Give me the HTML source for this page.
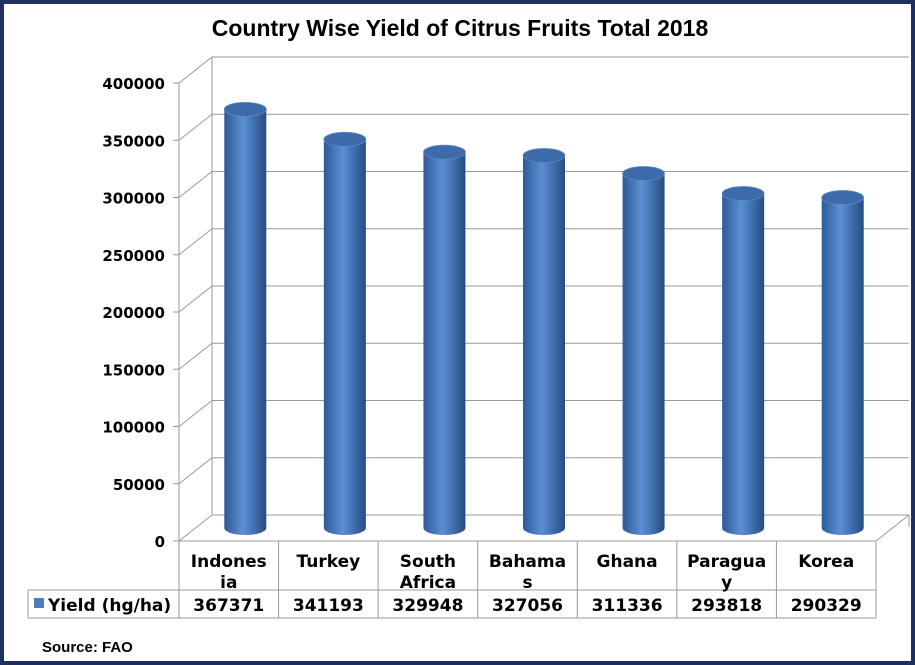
<!DOCTYPE html>
<html><head><meta charset="utf-8"><style>
html,body{margin:0;padding:0;background:#fff;}
#wrap{position:relative;width:915px;height:665px;box-sizing:border-box;border:4px solid #1f2f5f;background:#fff;overflow:hidden;}
svg{position:absolute;left:-4px;top:-4px;}
</style></head><body>
<div id="wrap">
<svg id="c" width="915" height="665">
<defs>
<linearGradient id="cyl" x1="0" x2="1" y1="0" y2="0">
<stop offset="0" stop-color="#2e5a96"/><stop offset="0.45" stop-color="#5b8fd6"/><stop offset="1" stop-color="#254c82"/>
</linearGradient>
</defs>
<text x="460" y="36" text-anchor="middle" font-family="Liberation Sans, sans-serif" font-weight="bold" font-size="23" fill="#000">Country Wise Yield of Citrus Fruits Total 2018</text>
<g id="grid"></g><g id="bars"></g><g id="table"></g>
<text x="42" y="652" font-family="Liberation Sans, sans-serif" font-weight="bold" font-size="15">Source: FAO</text>
</svg></div>
<script>
const categories=["Indones|ia","Turkey","South|Africa","Bahama|s","Ghana","Paragua|y","Korea"];
const values=[367371,341193,329948,327056,311336,293818,290329];
const yTicks=[0,50000,100000,150000,200000,250000,300000,350000,400000];
const seriesName="Yield (hg/ha)";
const NS="http://www.w3.org/2000/svg";
const x0=179,x1=876,y0=541,yTop=83,vmax=400000,dx=33,dy=-26;
const colW=(x1-x0)/categories.length;
function yS(v){return y0-(v/vmax)*(y0-yTop);}
function mk(tag,attrs,parent,txt){const e=document.createElementNS(NS,tag);for(const k in attrs)e.setAttribute(k,attrs[k]);if(txt!=null)e.textContent=txt;parent.appendChild(e);return e;}
const grid=document.getElementById('grid'),bars=document.getElementById('bars'),tbl=document.getElementById('table');
const F="DejaVu Sans, Liberation Sans, sans-serif";
mk('line',{x1:x0+dx,y1:y0+dy,x2:x0+dx,y2:yTop+dy,stroke:'#999'},grid);
mk('line',{x1:x0,y1:y0,x2:x0,y2:yTop,stroke:'#999'},grid);
mk('line',{x1:x1,y1:y0,x2:x1+dx,y2:y0+dy,stroke:'#999'},grid);
mk('line',{x1:x1+dx,y1:y0+dy,x2:x1+dx,y2:y0+dy+12,stroke:'#999'},grid);
yTicks.forEach(t=>{const y=yS(t);
 const g=mk('g',{},grid);
 mk('polyline',{points:`${x0},${y} ${x0+dx},${y+dy} ${x1+dx},${y+dy}`,fill:'none',stroke:'#999'},g);
 mk('line',{x1:x0-6,y1:y,x2:x0,y2:y,stroke:'#999'},g);
 const l=mk('text',{x:x0-14,y:y+6,'text-anchor':'end','font-family':F,'font-weight':'bold','font-size':'15'},grid,String(t));
 
});
mk('line',{x1:x0,y1:y0,x2:x1,y2:y0,stroke:'#999'},grid);
values.forEach((v,i)=>{
 const cx=x0+colW*(i+0.5)+dx/2,rx=21,ry=7;
 const yb=y0+dy/2,yt=yS(v)+dy/2+2;
 const g=mk('g',{},bars);
 mk('path',{d:`M${cx-rx},${yt} L${cx-rx},${yb} A${rx},${ry} 0 0 0 ${cx+rx},${yb} L${cx+rx},${yt} Z`,fill:'url(#cyl)'},g);
 mk('ellipse',{cx:cx,cy:yt,rx:rx,ry:ry,fill:'#3d6aa8',stroke:'#5b86c4','stroke-width':'0.8'},g);
});
const r1=590,r2=618,lx=28;
mk('line',{x1:x0,y1:y0,x2:x0,y2:r2,stroke:'#999'},tbl);
mk('line',{x1:lx,y1:r1,x2:x1,y2:r1,stroke:'#999'},tbl);
mk('line',{x1:lx,y1:r2,x2:x1,y2:r2,stroke:'#999'},tbl);
mk('line',{x1:lx,y1:r1,x2:lx,y2:r2,stroke:'#999'},tbl);
categories.forEach((c,i)=>{
 const xr=x0+colW*(i+1),xc=x0+colW*(i+0.5);
 mk('line',{x1:xr,y1:y0,x2:xr,y2:r2,stroke:'#999'},tbl);
 const parts=c.split('|');
 parts.forEach((p,j)=>{const t=mk('text',{x:xc,y:567+j*21,'text-anchor':'middle','font-family':F,'font-weight':'bold','font-size':'17'},tbl,p);
  });
 const vt=mk('text',{x:xc,y:611,'text-anchor':'middle','font-family':F,'font-weight':'bold','font-size':'17'},tbl,String(values[i]));
 
});
const key=mk('rect',{x:34,y:598,width:10,height:10,fill:'#4a7ebf'},tbl);

const st=mk('text',{x:48,y:611,'font-family':F,'font-weight':'bold','font-size':'17'},tbl,seriesName);

</script>
</body></html>
